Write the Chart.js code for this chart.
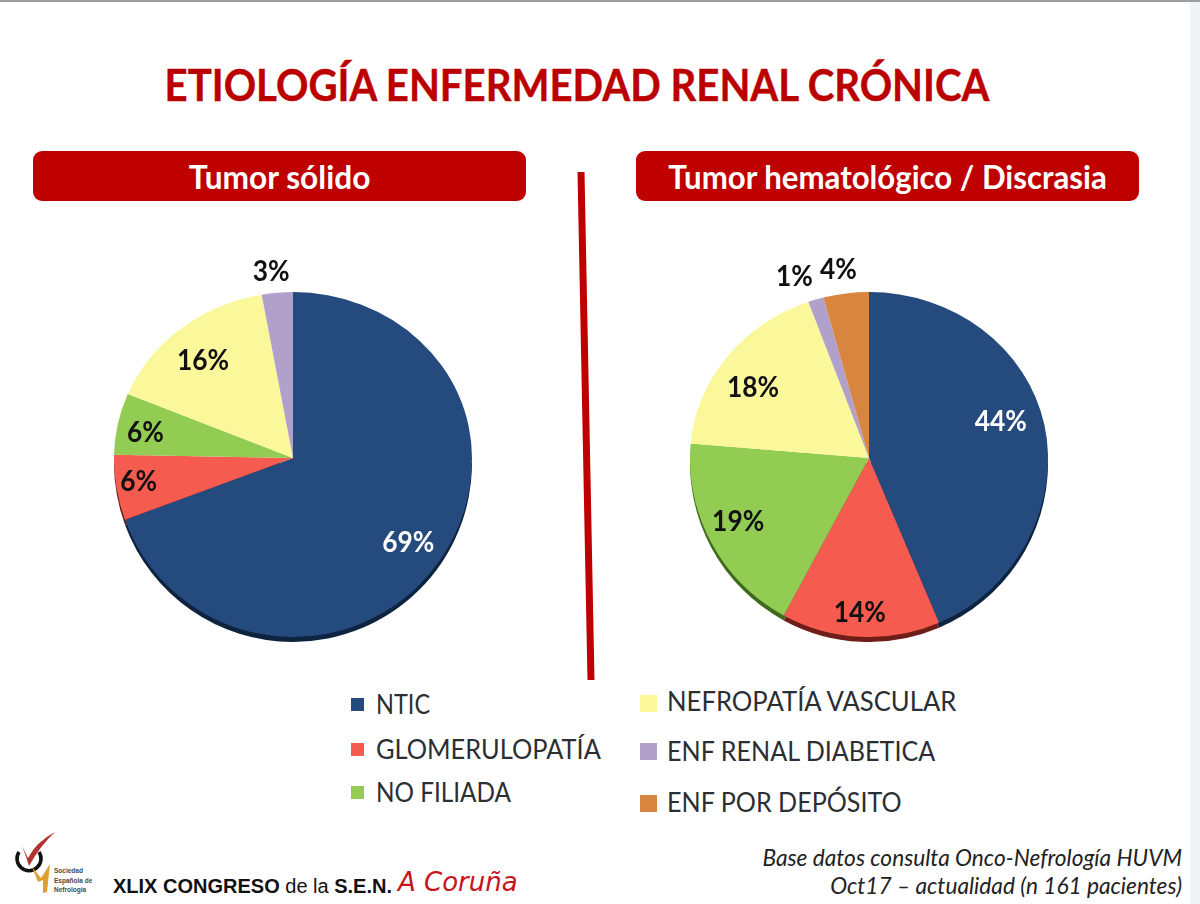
<!DOCTYPE html>
<html lang="es">
<head>
<meta charset="utf-8">
<title>Etiología enfermedad renal crónica</title>
<script src="https://cdn.jsdelivr.net/npm/chart.js@4"></script>
<style>
html, body { margin: 0; padding: 0; background: #fff; }
body { width: 1200px; height: 904px; position: relative; overflow: hidden; font-family: Lato, sans-serif; }
.abs { position: absolute; white-space: nowrap; }
#topline { left: 0; top: 0; width: 1200px; height: 2px; background: #999f9f; }
#sidebar { left: 1190px; top: 2px; width: 10px; height: 902px; background: #f1f4f6; }
#titulo { left: 0; top: 56px; width: 1154px; text-align: center; font-size: 44px; line-height: 56px; font-weight: 700; color: #bb0000; transform: scaleX(0.913); transform-origin: 577px 0; -webkit-text-stroke: 0.4px #bb0000; }
.cabecera { top: 151px; height: 50px; background: #bf0000; border-radius: 9px; }
.cabecera span { display: block; line-height: 50px; color: #fff; font-size: 33px; font-weight: 700; text-align: center; }
canvas { position: absolute; }
.leyenda { font-size: 27px; line-height: 30px; color: #2b2f33; transform-origin: 0 50%; }
.cuadro { position: absolute; }
#base { right: 18px; top: 844px; text-align: right; font-size: 22.7px; line-height: 28px; font-style: italic; color: #222; }
#congreso { left: 113px; top: 874px; font-family: "Liberation Sans", sans-serif; font-size: 20px; line-height: 24px; color: #111; }
#coruna { left: 398px; top: 866px; font-family: "DejaVu Sans", sans-serif; font-style: italic; font-size: 26px; line-height: 32px; color: #c8141c; }
.sen { font-family: "Liberation Sans", sans-serif; font-weight: 700; font-size: 6.5px; line-height: 9.5px; color: #4a4a4a; left: 54px; top: 866px; }
</style>
</head>
<body>
<div class="abs" id="topline"></div>
<div class="abs" id="sidebar"></div>
<div class="abs" id="titulo">ETIOLOGÍA ENFERMEDAD RENAL CRÓNICA</div>
<div class="abs cabecera" style="left:33px;width:493px"><span style="transform:scaleX(0.96)">Tumor sólido</span></div>
<div class="abs cabecera" style="left:636px;width:503px"><span style="transform:scaleX(0.945)">Tumor hematológico / Discrasia</span></div>

<svg class="abs" style="left:0;top:0" width="1200" height="904">
  <line x1="581" y1="172" x2="591" y2="680" stroke="#bf0000" stroke-width="7"/>
  <path d="M19 852 A12 12 0 1 0 39 852" fill="none" stroke="#111" stroke-width="3.5"/>
  <path d="M22 846 L28 858 Q36 842 55 832 Q40 846 29 866 Q26 856 22 846 Z" fill="#b5332e"/>
  <path d="M32 867 L41 878 L50 864 L47 892 L43 893 L43 880 L38 882 Z" fill="#e0a030"/>
</svg>
<div class="abs sen">Sociedad<br>Española de<br>Nefrología</div>

<canvas id="solido" width="400" height="400" style="left:93px;top:258px;width:400px;height:400px"></canvas>
<canvas id="hemato" width="400" height="400" style="left:669px;top:258px;width:400px;height:400px"></canvas>

<div id="leyenda"></div>

<div class="abs" id="congreso"><b>XLIX CONGRESO</b> de la <b>S.E.N.</b></div>
<div class="abs" id="coruna">A Coruña</div>
<div class="abs" id="base">Base datos consulta Onco-Nefrología HUVM<br>Oct17 – actualidad (n 161 pacientes)</div>

<script>
// categorias comunes a las dos tartas
const categorias = ['NTIC', 'GLOMERULOPATÍA', 'NO FILIADA', 'NEFROPATÍA VASCULAR', 'ENF RENAL DIABETICA', 'ENF POR DEPÓSITO']
const colores = ['#254a7d', '#f55c4f', '#93cc52', '#fbf79b', '#b1a1ca', '#d8853f']
const sombras = ['#0e2340', '#6e1d18', '#3f6a1c', '#c9c578', '#7d7096', '#8a5220']

const valores_solido = [69.4, 5.9, 6.0, 15.9, 2.8, 0]
const valores_hemato = [43.6, 14.3, 18.5, 18.1, 1.4, 4.1]

// desplazamiento de cada etiqueta respecto al centro del sector
const etiquetas_solido = [[42, 34], [-66, 9], [-60, -7], [-34, -27], [-14, -97], null]
const etiquetas_hemato = [[44, -18], [-5, 66], [-52, 22], [-45, -15], [-48, -96], [-19, -99]]

// la tarta esta inclinada: la mitad de arriba sale mas baja que la de abajo
const APLASTADO = 0.927
const CAIDA = 5

const pieEstilo = {
    id: 'pieEstilo',
    beforeDatasetsDraw(chart) {
        const ctx = chart.ctx
        const cy = chart.getDatasetMeta(0).data[0].y
        ctx.save()
        ctx.beginPath()
        ctx.rect(0, 0, chart.width, cy)
        ctx.clip()
        ctx.translate(0, cy)
        ctx.scale(1, APLASTADO)
        ctx.translate(0, -cy)
    },
    afterDatasetsDraw(chart) {
        const ctx = chart.ctx
        const arcs = chart.getDatasetMeta(0).data
        const cx = arcs[0].x
        const cy = arcs[0].y
        ctx.restore()
        // canto inferior oscuro
        ctx.save()
        ctx.beginPath()
        ctx.rect(0, cy + CAIDA, chart.width, chart.height)
        ctx.clip()
        arcs.forEach(function(arc, i){
            if(arc.circumference <= 0) return
            ctx.beginPath()
            ctx.moveTo(cx, cy + CAIDA)
            ctx.arc(cx, cy + CAIDA, arc.outerRadius, arc.startAngle, arc.endAngle)
            ctx.closePath()
            ctx.fillStyle = sombras[i]
            ctx.fill()
        })
        ctx.restore()
        // mitad de abajo, sin aplastar
        ctx.save()
        ctx.beginPath()
        ctx.rect(0, cy, chart.width, chart.height)
        ctx.clip()
        arcs.forEach(function(arc){
            arc.draw(ctx)
        })
        ctx.restore()
    },
    afterDraw(chart, args, opts) {
        const ctx = chart.ctx
        const arcs = chart.getDatasetMeta(0).data
        const datos = chart.data.datasets[0].data
        ctx.save()
        ctx.font = 'bold 28px Lato'
        ctx.textAlign = 'center'
        ctx.textBaseline = 'middle'
        arcs.forEach(function(arc, i){
            if(!opts.posiciones[i]) return
            const c = arc.tooltipPosition()
            ctx.save()
            ctx.translate(c.x + opts.posiciones[i][0], c.y + opts.posiciones[i][1])
            ctx.scale(0.94, 1)
            ctx.fillStyle = i == 0 ? '#ffffff' : '#111111'
            ctx.fillText(Math.round(datos[i]) + '%', 0, 0)
            ctx.restore()
        })
        ctx.restore()
    }
}

function renderiza_pie(id, valores, posiciones){
    const ctx = document.getElementById(id).getContext('2d')
    return new Chart(ctx, {
        type: 'pie',
        data: {
            labels: categorias,
            datasets: [{
                data: valores,
                backgroundColor: colores,
                borderWidth: 0
            }]
        },
        options: {
            responsive: false,
            animation: false,
            radius: 179,
            layout: { padding: 0 },
            plugins: {
                legend: { display: false },
                tooltip: { enabled: false },
                pieEstilo: { posiciones: posiciones }
            }
        },
        plugins: [pieEstilo]
    })
}

function renderiza_leyenda(){
    const caja = document.getElementById('leyenda')
    // x, y del cuadro, lado, x del texto, y central del texto, ancho del texto
    const sitios = [
        [351, 698, 13, 376, 704, 0.87], [351, 743, 13, 376, 749, 0.94], [351, 786, 13, 376, 792, 0.90],
        [640, 695, 17, 667, 701, 0.95], [640, 743, 17, 667, 751, 0.93], [640, 795, 17, 667, 802, 0.93]
    ]
    categorias.forEach(function(nombre, i){
        const s = sitios[i]
        const q = document.createElement('div')
        q.className = 'cuadro'
        q.style.cssText = `left:${s[0]}px;top:${s[1]}px;width:${s[2]}px;height:${s[2]}px;background:${colores[i]}`
        caja.appendChild(q)
        const t = document.createElement('div')
        t.className = 'abs leyenda'
        t.style.cssText = `left:${s[3]}px;top:${s[4] - 15}px;transform:scaleX(${s[5]})`
        t.textContent = nombre
        caja.appendChild(t)
    })
}

renderiza_pie('solido', valores_solido, etiquetas_solido)
renderiza_pie('hemato', valores_hemato, etiquetas_hemato)
renderiza_leyenda()
</script>
</body>
</html>
